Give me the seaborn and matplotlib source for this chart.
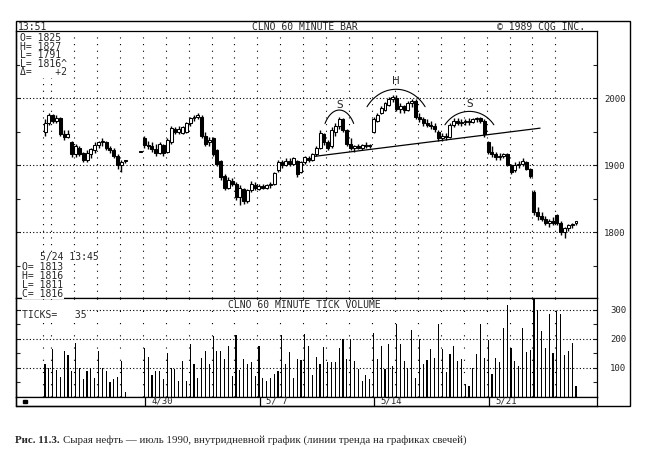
import numpy as np
import pandas as pd
import matplotlib
matplotlib.use('Agg')
import matplotlib.pyplot as plt
from matplotlib.patches import Rectangle
import seaborn as sns

nan = np.nan

# CLN0 (July 1990 crude), 60 minute bars from 4/23 to 5/24 13:45; list index = bar number
bar_open = [1950, 1962, 1974, 1966, 1970, 1947, 1942, 1934, 1916, 1926, 1918, 1908, 1916, 1922, 1930, 1934, 1934, 1926, 1922, 1914, 1900, 1906,
            nan, nan, nan, 1920,
            1940, 1930, 1928, 1924, 1918, 1930, 1920, 1934, 1954, 1950, 1948, 1950, 1962, 1970, 1972, 1972, 1944, 1934, 1940, 1922, 1906, 1884, 1866, 1876, 1872, 1852, 1864, 1846, 1862, 1870,
            1864, 1868, 1866, 1870, 1872, 1892, 1904, 1900, 1906, 1902, 1906, 1890, 1904, 1910, 1908, 1916, 1926, 1946, 1934, 1928, 1950, 1958, 1968, 1952, 1932, 1926, 1928, 1926, 1930, 1928,
            1950, 1966, 1978, 1982, 1990, 1998, 2000, 1984, 1988, 1982, 1992, 1996, 1972, 1968, 1962, 1960, 1958, 1950, 1940, 1944, 1942, 1960, 1966, 1962, 1964, 1966, 1964, 1968, 1970, 1966,
            1934, 1920, 1916, 1912, 1914, 1916, 1900, 1892, 1900, 1902, 1904, 1894, 1860, 1830, 1824, 1820, 1814, 1816, 1825, 1814, 1800, 1806, 1810, 1813]
bar_high = [1968, 1978, 1976, 1974, 1972, 1952, 1952, 1936, 1932, 1928, 1920, 1922, 1926, 1934, 1936, 1940, 1936, 1928, 1926, 1916, 1908, 1908,
            nan, nan, nan, 1921,
            1944, 1936, 1934, 1932, 1934, 1932, 1940, 1958, 1956, 1958, 1958, 1964, 1972, 1974, 1977, 1974, 1950, 1942, 1942, 1924, 1908, 1886, 1882, 1880, 1874, 1870, 1866, 1864, 1876, 1874,
            1872, 1872, 1872, 1874, 1890, 1908, 1908, 1910, 1910, 1912, 1908, 1906, 1914, 1914, 1918, 1928, 1952, 1948, 1938, 1956, 1962, 1972, 1970, 1954, 1940, 1930, 1932, 1932, 1934, 1932,
            1972, 1978, 1988, 1994, 2002, 2004, 2004, 1992, 1990, 1996, 1998, 1998, 1978, 1972, 1968, 1966, 1962, 1952, 1948, 1948, 1962, 1970, 1970, 1968, 1968, 1970, 1970, 1972, 1972, 1968,
            1936, 1928, 1920, 1918, 1918, 1918, 1902, 1904, 1906, 1910, 1906, 1896, 1862, 1838, 1830, 1824, 1820, 1822, 1827, 1816, 1808, 1812, 1814, 1816]
bar_low = [1944, 1960, 1962, 1963, 1944, 1938, 1940, 1912, 1912, 1914, 1904, 1904, 1910, 1918, 1926, 1928, 1922, 1918, 1910, 1894, 1890, 1903,
           nan, nan, nan, 1919,
           1926, 1924, 1920, 1914, 1916, 1914, 1918, 1932, 1946, 1946, 1946, 1948, 1958, 1966, 1968, 1940, 1928, 1928, 1914, 1898, 1878, 1862, 1864, 1868, 1848, 1840, 1842, 1844, 1860, 1862,
           1862, 1864, 1864, 1866, 1870, 1890, 1896, 1898, 1898, 1900, 1882, 1888, 1902, 1904, 1906, 1914, 1924, 1930, 1922, 1926, 1944, 1954, 1950, 1928, 1922, 1920, 1924, 1922, 1926, 1926,
           1948, 1964, 1976, 1980, 1988, 1994, 1980, 1978, 1978, 1980, 1986, 1968, 1964, 1958, 1956, 1954, 1950, 1936, 1936, 1938, 1940, 1956, 1960, 1958, 1960, 1960, 1962, 1964, 1962, 1942,
           1916, 1912, 1908, 1908, 1910, 1898, 1886, 1890, 1896, 1898, 1892, 1880, 1826, 1818, 1816, 1810, 1808, 1810, 1810, 1796, 1791, 1802, 1806, 1811]
bar_close = [1962, 1974, 1966, 1970, 1947, 1942, 1946, 1916, 1928, 1916, 1908, 1918, 1924, 1930, 1934, 1936, 1926, 1922, 1914, 1900, 1904, 1906,
             nan, nan, nan, 1920,
             1930, 1928, 1924, 1918, 1932, 1918, 1938, 1955, 1950, 1954, 1956, 1962, 1970, 1972, 1974, 1944, 1932, 1938, 1916, 1902, 1882, 1866, 1878, 1872, 1852, 1866, 1846, 1862, 1872, 1866,
             1868, 1866, 1870, 1872, 1888, 1904, 1900, 1906, 1902, 1910, 1886, 1904, 1912, 1908, 1916, 1926, 1948, 1934, 1926, 1952, 1958, 1968, 1952, 1932, 1926, 1928, 1926, 1930, 1928, 1930,
             1968, 1975, 1985, 1992, 1998, 2002, 1984, 1988, 1982, 1992, 1996, 1972, 1968, 1962, 1960, 1958, 1954, 1940, 1944, 1942, 1960, 1966, 1962, 1964, 1966, 1964, 1968, 1970, 1966, 1946,
             1920, 1916, 1912, 1914, 1916, 1900, 1890, 1900, 1902, 1906, 1894, 1884, 1830, 1824, 1820, 1814, 1816, 1814, 1814, 1800, 1806, 1810, 1812, 1816]
tick_volume = [113, 99, 165, 90, 67, 156, 144, 87, 186, 98, 61, 87, 99, 63, 156, 99, 88, 50, 61, 67, 121, 15,
               nan, nan, nan, nan,
               167, 136, 73, 88, 88, 61, 151, 99, 96, 53, 122, 53, 180, 111, 65, 134, 157, 111, 208, 157, 157, 128, 176, 70, 213, 93, 130, 111, 119, 70, 176,
               65, 53, 65, 76, 88, 211, 111, 153, 65, 130, 125, 217, 176, 73, 138, 111, 171, 120,
               119, 119, 168, 200, 128, 197, 124, 96, 53, 73, 61, 219, 128, 174, 96, 182, 104, 249, 180, 122,
               99, 231, 65, 197, 111, 127, 165, 134, 249, 165, 84, 145, 176, 122, 130, 42, 35, 99, 148, 251,
               134, 196, 78, 134, 119, 238, 315, 167, 122, 107, 236, 153, 160, 345, 298, 226, 167, 286, 151, 295,
               284, 142, 157, 186, 35]

week_labels = ['4/30', '5/ 7', '5/14', '5/21']
week_first_bar = [26, 56, 86, 116]
last_day_first_bar = 134
price_ticks = [1800, 1900, 2000]
volume_ticks = [100, 200, 300]

# head and shoulders drawn on the chart
neck_bar = [70.7, 129.6]
neck_price = [1913, 1955]
pattern_labels = ['S', 'H', 'S']
arc_first_bar = [73.3, 84.3, 104.7]
arc_last_bar = [80.8, 99.5, 117.5]
arc_edge_price = [1962, 1987, 1960]
arc_top_price = [1982, 2013, 1980]
pattern_label_price = [1990, 2025, 1991]

sns.set_style('white')
plt.rcParams['font.family'] = ['DejaVu Sans Mono']
plt.rcParams['axes.edgecolor'] = 'black'
plt.rcParams['axes.linewidth'] = 0.9

W, H = 660, 457


def fbox(l, t, r, b):
    return [l / W, 1 - b / H, (r - l) / W, (b - t) / H]


def fy(y):
    return 1 - y / H


fig = plt.figure(figsize=(W / 100, H / 100), dpi=100)
ax_p = fig.add_axes(fbox(16, 31, 597, 298))
ax_v = fig.add_axes(fbox(16, 298, 597, 396.5))
ax_d = fig.add_axes(fbox(16, 396.5, 597, 406))
xlim = (-7.6, 144.5)
day_lines = [-0.5] + [1.6 + 6 * k for k in range(23)]
hdot = (0, (1, 2))

# --- price candles
bars = pd.DataFrame({'bar': np.arange(len(bar_open)), 'open': bar_open, 'high': bar_high,
                     'low': bar_low, 'close': bar_close}).dropna()
ax_p.vlines(bars.bar, bars.low, bars.high, color='black', lw=1.0, zorder=3)
for part, fc in ((bars[bars.close >= bars.open], 'white'), (bars[bars.close < bars.open], 'black')):
    lo = part[['open', 'close']].min(axis=1)
    ht = (part.close - part.open).abs().clip(lower=1.5)
    ax_p.bar(part.bar, ht, bottom=lo, width=0.78, facecolor=fc, edgecolor='black', lw=0.75, zorder=4)

for y in price_ticks:
    ax_p.axhline(y, color='black', lw=0.8, ls=hdot, zorder=1)
for x in day_lines:
    ax_p.axvline(x, color='black', lw=0.8, ls=(0, (1, 5)), zorder=1)

ax_p.plot(neck_bar, neck_price, color='black', lw=0.9, zorder=5)
th = np.radians(35)
t = np.linspace(th, np.pi - th, 60)
for lab, x0, x1, ye, yt, yl in zip(pattern_labels, arc_first_bar, arc_last_bar, arc_edge_price,
                                    arc_top_price, pattern_label_price):
    cx = (x0 + x1) / 2
    a = (x1 - x0) / 2 / np.cos(th)
    b = (yt - ye) / (1 - np.sin(th))
    ax_p.plot(cx + a * np.cos(t), yt - b + b * np.sin(t), color='black', lw=0.8, zorder=5)
    ax_p.text(cx, yl, lab, ha='center', va='center', family='DejaVu Sans', size=7.5)

ax_p.set_xlim(*xlim)
ax_p.set_ylim(1701.5, 2100)
ax_p.set_xticks([])
ax_p.set_yticks(price_ticks)
ax_p.set_yticks([1750, 1850, 1950, 2050], minor=True)
ax_p.tick_params(axis='y', which='both', direction='in', left=True, right=True, labelleft=False,
                 labelright=True, length=3, width=0.8, pad=5, labelsize=6.5)

# --- tick volume
vol = pd.DataFrame({'bar': np.arange(len(tick_volume)), 'ticks': tick_volume}).dropna()
sns.barplot(data=vol, x='bar', y='ticks', native_scale=True, color='black', width=0.3,
            errorbar=None, linewidth=0, antialiased=False, ax=ax_v, zorder=3)
ax_v.set(xlabel='', ylabel='')
for y in volume_ticks:
    ax_v.axhline(y, color='black', lw=0.8, ls=hdot, zorder=1)
for x in day_lines:
    ax_v.axvline(x, color='black', lw=0.8, ls=(0, (1, 10)), zorder=1)
ax_v.set_xlim(*xlim)
ax_v.set_ylim(0, 340)
ax_v.set_xticks([])
ax_v.set_yticks(volume_ticks)
ax_v.set_yticks([50, 150, 250], minor=True)
ax_v.tick_params(axis='y', which='both', direction='in', left=True, right=True, labelleft=False,
                 labelright=True, length=3, width=0.8, pad=9.4, labelsize=6.5)

# --- date strip
ax_d.set_xlim(*xlim)
ax_d.set_ylim(0, 1)
ax_d.set_xticks([])
ax_d.set_yticks([])
for lab, b in zip(week_labels, week_first_bar):
    ax_d.axvline(b + 0.2, color='black', lw=0.9)
    ax_d.text(b + 1.9, 0.5, lab, va='center', size=6.5)
fig.add_artist(Rectangle((23 / W, fy(403)), 3.5 / W, 3.5 / H, color='black', transform=fig.transFigure))

# --- frame and screen texts
fig.add_artist(Rectangle((16 / W, fy(406)), (630 - 16) / W, (406 - 21) / H, fill=False, lw=1.0,
                         edgecolor='black', transform=fig.transFigure))
fig.text(18 / W, fy(26.5), '13:51', va='center', size=7)
fig.text(305 / W, fy(26.5), 'CLNO 60 MINUTE BAR', ha='center', va='center', size=7)
fig.text(497 / W, fy(26.5), '© 1989 CQG INC.', va='center', size=7)

day = slice(last_day_first_bar, None)
prev_close = bar_close[last_day_first_bar - 1]
info = ['O= %d' % bar_open[last_day_first_bar], 'H= %d' % max(bar_high[day]), 'L= %d' % min(bar_low[day]),
        'L= %d^' % bar_close[-1], 'Δ=    %+d' % (bar_close[-1] - prev_close)]
for k, s in enumerate(info):
    fig.text(20.5 / W, fy(38 + 8.6 * k), s, va='center', size=7,
             bbox=dict(facecolor='white', edgecolor='none', pad=0.3))
fig.text(40.5 / W, fy(257), '5/24 13:45', va='center', size=7,
         bbox=dict(facecolor='white', edgecolor='none', pad=0.3))
last = ['O= %d' % bar_open[-1], 'H= %d' % bar_high[-1], 'L= %d' % bar_low[-1], 'C= %d' % bar_close[-1]]
for k, s in enumerate(last):
    fig.text(22.5 / W, fy(267 + 8.9 * k), s, va='center', size=7,
             bbox=dict(facecolor='white', edgecolor='none', pad=0.3))

fig.text(304 / W, fy(305), 'CLNO 60 MINUTE TICK VOLUME', ha='center', va='center', size=7,
         bbox=dict(facecolor='white', edgecolor='none', pad=0.3))
fig.text(22 / W, fy(315), 'TICKS=   %d' % tick_volume[-1], va='center', size=7,
         bbox=dict(facecolor='white', edgecolor='none', pad=0.5))

# --- caption, sized so that it ends near x = 460 px
cap_size = 7.8
cap1 = fig.text(15 / W, fy(443), 'Рис. 11.3.', family=['Liberation Serif'], weight='bold',
                size=cap_size, va='baseline')
fig.canvas.draw()
x1 = cap1.get_window_extent().x1
fig.text((x1 + 3) / W, fy(443),
         'Сырая нефть — июль 1990, внутридневной график (линии тренда на графиках свечей)',
         family=['Liberation Serif'], size=cap_size, va='baseline')

fig.savefig('out.png', dpi=100)
